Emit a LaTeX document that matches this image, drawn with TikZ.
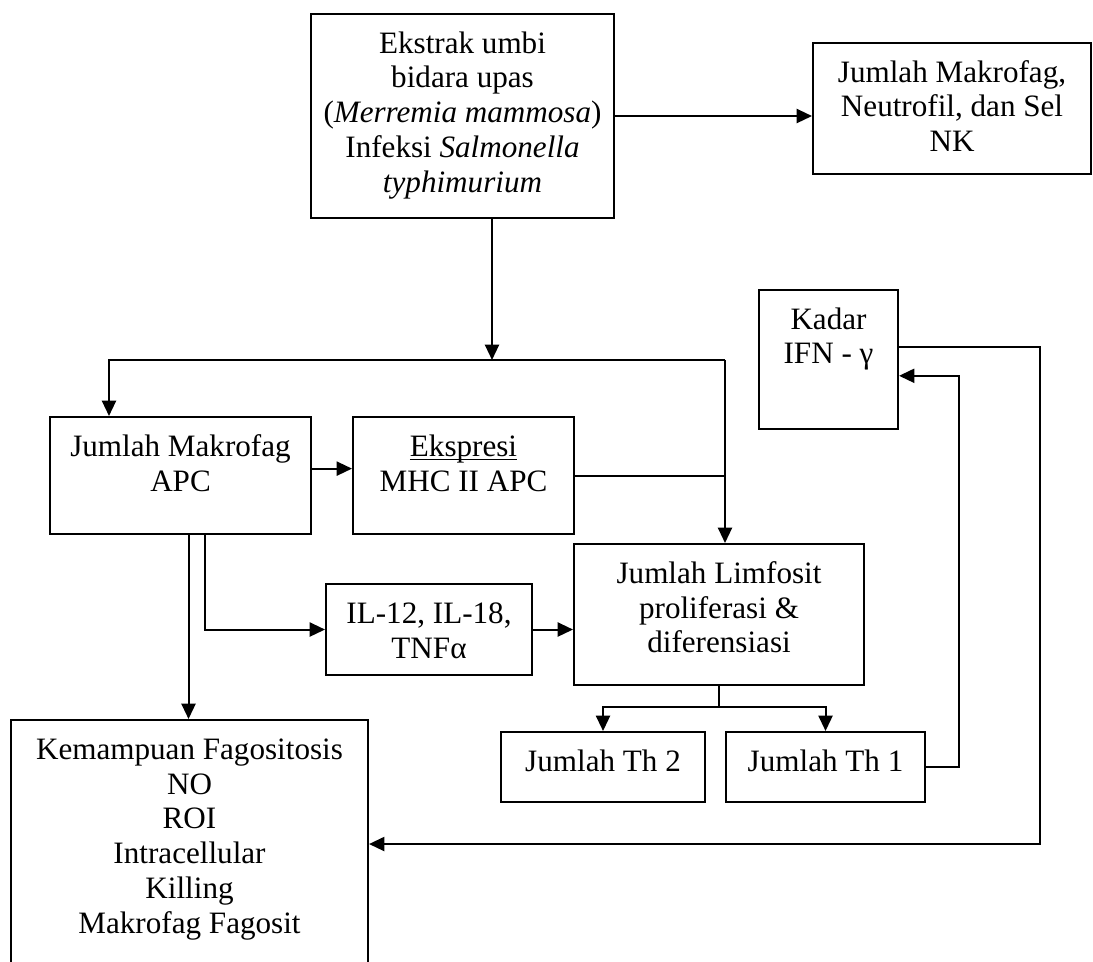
\documentclass[tikz,border=0pt]{standalone}
\usepackage{fontspec}
\setmainfont{Liberation Serif}
\usetikzlibrary{arrows.meta, calc}
\newlength\pxu
\setlength\pxu{0.392pt}
% text in a box, set from the top like a word text box
\newcommand{\boxtext}[3]{\parbox[c][#2\pxu][t]{#1\pxu}{\centering\rule{0pt}{15.3pt}#3}}

\begin{document}
\begin{tikzpicture}[x=0.392pt, y=-0.392pt,
    every node/.style={font=\fontsize{12.2}{13.7}\selectfont},
    box/.style={draw, line width=0.8pt, inner sep=0pt, anchor=north west},
    line/.style={line width=0.8pt},
    arr/.style={line, -{Triangle[length=6pt, width=5.5pt]}}]
      \path[use as bounding box, clip] (0, 0) rectangle (1093, 961);

      % boxes
      \node[box] (ekstrak) at (310, 13) {\boxtext{303}{204}{Ekstrak umbi\\ bidara upas\\ (\textit{Merremia mammosa})\\ Infeksi \textit{Salmonella}\\ \textit{typhimurium}}};
      \node[box] (sel) at (812, 42) {\boxtext{278}{131}{Jumlah Makrofag,\\ Neutrofil, dan Sel\\ NK}};
      \node[box] (kadar) at (758, 289) {\boxtext{139}{139}{Kadar\\ IFN - γ}};
      \node[box] (makrofag) at (49, 416) {\boxtext{261}{117}{Jumlah Makrofag\\ APC}};
      \node[box] (ekspresi) at (352, 416) {\boxtext{221}{117}{\underline{\smash{Ekspresi}}\\ MHC II APC}};
      \node[box] (limfosit) at (573, 543) {\boxtext{290}{141}{Jumlah Limfosit\\ proliferasi \&\\ diferensiasi}};
      \node[box] (il) at (325, 583) {\boxtext{206}{91}{IL-12, IL-18,\\ TNFα}};
      \node[box] (th2) at (500, 731) {\boxtext{204}{70}{Jumlah Th 2}};
      \node[box] (th1) at (725, 731) {\boxtext{199}{70}{Jumlah Th 1}};
      \node[box] (kemampuan) at (10, 719) {\boxtext{357}{248}{Kemampuan Fagositosis\\ NO\\ ROI\\ Intracellular\\ Killing\\ Makrofag Fagosit}};

      % connectors
      \coordinate (hub) at (492, 360);
      \coordinate (busL) at (109, 360);
      \coordinate (busR) at (725, 360);
      \draw[arr] (ekstrak.east) -- (ekstrak.east -| sel.west);
      \draw[arr] (ekstrak.south -| hub) -- (hub);
      \draw[arr] (busR) -- (busL) -- (busL |- makrofag.north);
      \draw[arr] (busR) -- (busR |- limfosit.north);
      \draw[arr] (makrofag.3) -- (makrofag.3 -| ekspresi.west);
      \draw[line] (ekspresi.east) -- (ekspresi.east -| busR);

      \coordinate (m1) at ($(makrofag.south) + (8, 0)$);
      \coordinate (m2) at ($(makrofag.south) + (24, 0)$);
      \draw[arr] (m1) -- (m1 |- kemampuan.north);
      \draw[arr] (m2) |- (il.west);
      \draw[arr] (il.east) -- (il.east -| limfosit.west);

      \draw[arr] (limfosit.south) -- ++(0, 21) -| (th2.north);
      \draw[arr] (limfosit.south) -- ++(0, 21) -| (th1.north);
      \draw[arr] (th1.east) -- ++(33, 0) |- (kadar.-13);
      \draw[arr] (kadar.10) -- ++(141, 0) |- (kemampuan.east);
    \end{tikzpicture}
\end{document}
